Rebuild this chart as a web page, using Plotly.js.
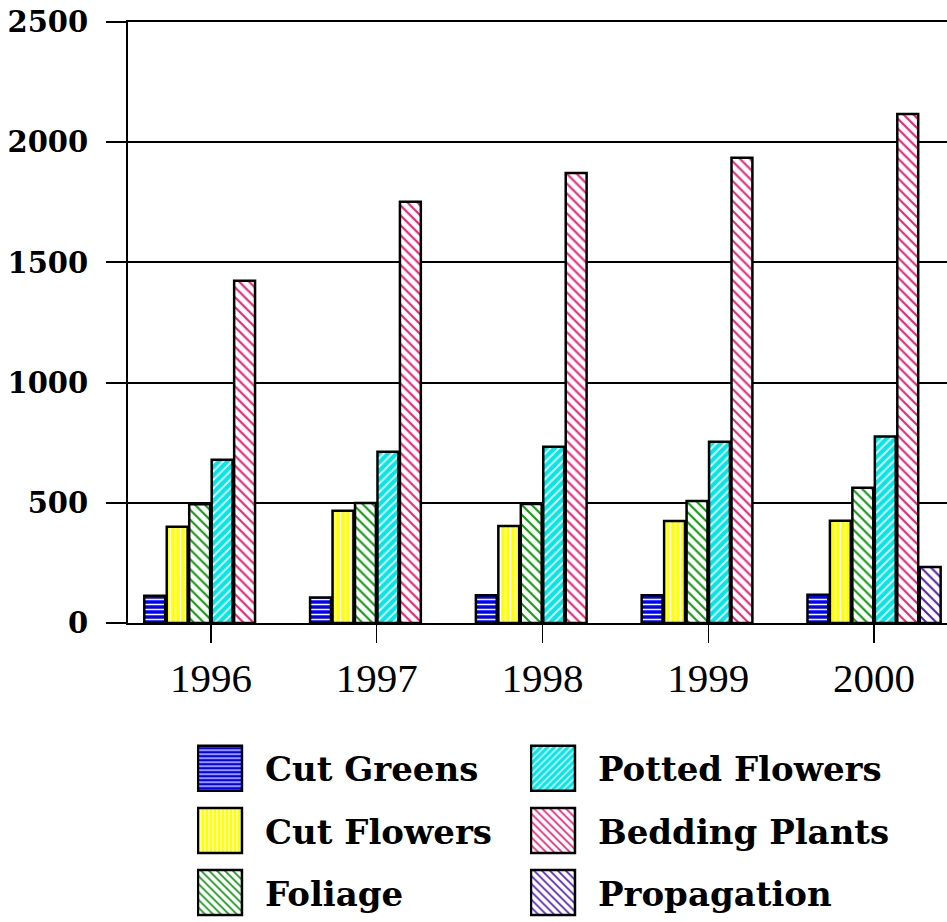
<!DOCTYPE html>
<html>
<head>
<meta charset="utf-8">
<script src="https://cdn.plot.ly/plotly-3.0.1.min.js"></script>
<style>
html,body{margin:0;padding:0;background:#fff;}
#chart{width:947px;height:922px;}
</style>
</head>
<body>
<div id="chart"></div>
<script>
const years = ['1996', '1997', '1998', '1999', '2000'];
const cutGreens = [113, 106, 115, 115, 117];
const cutFlowers = [400, 467, 403, 424, 425];
const foliage = [494, 499, 495, 508, 563];
const pottedFlowers = [679, 712, 733, 754, 776];
const beddingPlants = [1424, 1752, 1872, 1935, 2117];
const propagation = [null, null, null, null, 233];
const yTicks = [0, 500, 1000, 1500, 2000, 2500];

const seriesNames = ['Cut Greens', 'Cut Flowers', 'Foliage', 'Potted Flowers', 'Bedding Plants', 'Propagation'];
const seriesValues = [cutGreens, cutFlowers, foliage, pottedFlowers, beddingPlants, propagation];
const styles = [
  {bg: '#0000ff', fg: '#ffffff', shape: '-', size: 5, solidity: 0.3},
  {bg: '#ffff00', fg: '#ffffff', shape: '|', size: 5, solidity: 0.3},
  {bg: '#ffffff', fg: '#119911', shape: '\\', size: 7, solidity: 0.3},
  {bg: '#00e8e8', fg: '#ffffff', shape: '/', size: 6, solidity: 0.3},
  {bg: '#ffffff', fg: '#ee2277', shape: '\\', size: 7, solidity: 0.3},
  {bg: '#ffffff', fg: '#5522bb', shape: '\\', size: 7, solidity: 0.3}
];
const legendIds = ['legend', 'legend', 'legend', 'legend2', 'legend2', 'legend2'];

const traces = seriesNames.map((name, i) => ({
  type: 'bar',
  name: name,
  x: years,
  y: seriesValues[i],
  legend: legendIds[i],
  legendgroup: 'g' + i,
  marker: {
    color: styles[i].bg,
    line: {color: '#000000', width: 2.5},
    pattern: {shape: styles[i].shape, bgcolor: styles[i].bg, fgcolor: styles[i].fg,
              size: styles[i].size, solidity: styles[i].solidity, fillmode: 'replace'}
  },
  hoverinfo: 'x+y+name'
}));

const legendFont = {family: 'DejaVu Serif', size: 34, weight: 'bold', color: '#000000'};
const legendCommon = {
  orientation: 'v', xanchor: 'left', y: -0.194, yanchor: 'top',
  itemwidth: 58, font: legendFont, bgcolor: 'rgba(0,0,0,0)',
  traceorder: 'grouped', tracegroupgap: 15, borderwidth: 0
};

const layout = {
  width: 947, height: 922,
  margin: {l: 128, r: 0, t: 22, b: 297, pad: 0},
  paper_bgcolor: '#ffffff', plot_bgcolor: '#ffffff',
  barmode: 'group', bargap: 0.187, bargroupgap: 0.07,
  font: {family: 'Liberation Serif', color: '#000000'},
  xaxis: {
    type: 'category', range: [-0.5, 4.44],
    showline: true, mirror: true, linecolor: '#000000', linewidth: 2,
    ticks: 'outside', ticklen: 18, tickwidth: 1.5, tickcolor: '#000000',
    tickfont: {family: 'Liberation Serif', size: 41, color: '#000000'},
    ticklabelstandoff: 0, showgrid: false, zeroline: false
  },
  yaxis: {
    range: [0, 2500], tickvals: yTicks, ticktext: yTicks.map(String),
    showline: true, linecolor: '#000000', linewidth: 2,
    showgrid: true, gridcolor: '#000000', gridwidth: 2,
    ticks: 'outside', ticklen: 20, tickwidth: 2, tickcolor: '#000000',
    tickfont: {family: 'DejaVu Serif', size: 29, weight: 'bold', color: '#000000'},
    ticklabelstandoff: 12, zeroline: false
  },
  showlegend: true,
  legend: Object.assign({}, legendCommon, {x: 0.0842}),
  legend2: Object.assign({}, legendCommon, {x: 0.4908})
};

Plotly.newPlot('chart', traces, layout, {displayModeBar: false, staticPlot: true}).then(() => {
  document.querySelectorAll('.legendpoints path').forEach(p => {
    p.setAttribute('d', 'M11,22.5H-33V-22.5H11Z');
  });
});
</script>
</body>
</html>
